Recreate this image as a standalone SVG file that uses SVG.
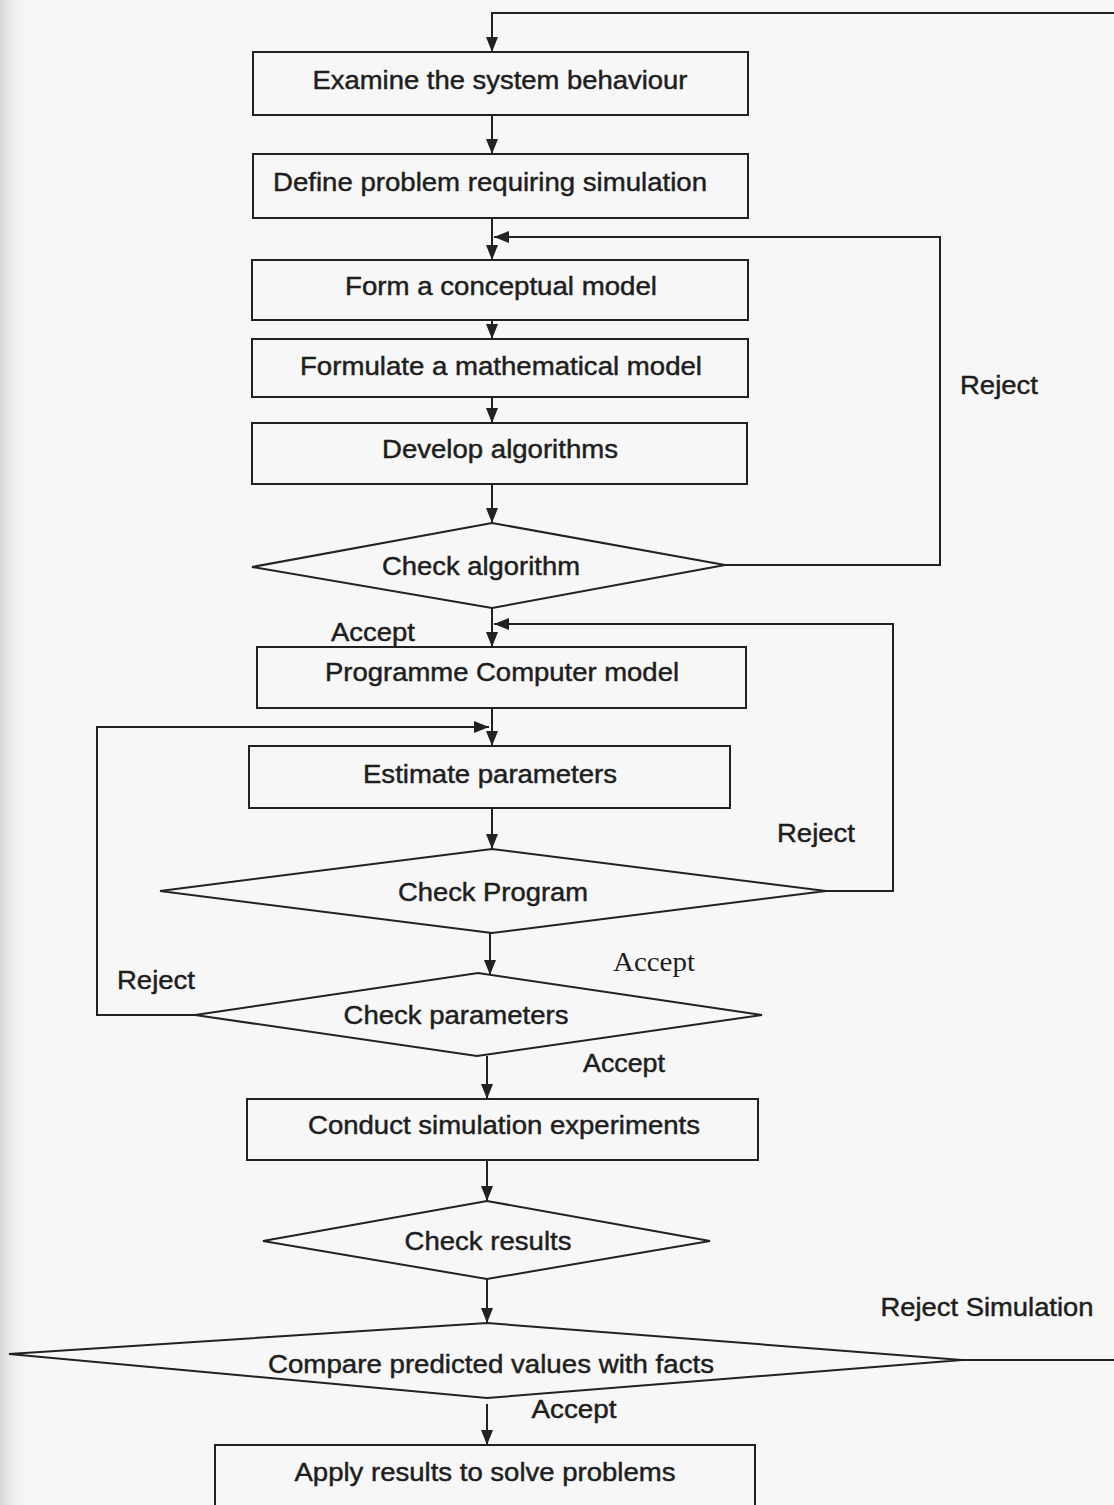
<svg xmlns="http://www.w3.org/2000/svg" width="1114" height="1505" viewBox="0 0 1114 1505">
<style>
.box{fill:none;stroke:#222;stroke-width:2}
.dia{fill:none;stroke:#222;stroke-width:2;stroke-linejoin:miter}
.ln{fill:none;stroke:#222;stroke-width:2}
.t{font-family:"Liberation Sans",Arial,sans-serif;font-size:25px;fill:#1e1e1e;stroke:#1e1e1e;stroke-width:0.45;text-anchor:middle;dominant-baseline:central}
.ts{font-family:"Liberation Serif","Times New Roman",serif;font-size:27px;fill:#1e1e1e;text-anchor:middle;dominant-baseline:central}
</style>
<defs>
<marker id="arr" markerUnits="userSpaceOnUse" markerWidth="15" markerHeight="12" viewBox="0 0 15 12" refX="15" refY="6" orient="auto">
<path d="M0,0 L15,6 L0,12 z" fill="#222"/>
</marker>
<linearGradient id="edge" x1="0" y1="0" x2="1" y2="0">
<stop offset="0" stop-color="#d6d6d6"/>
<stop offset="1" stop-color="#f7f7f7" stop-opacity="0"/>
</linearGradient>
</defs>
<rect x="0" y="0" width="1114" height="1505" fill="#f7f7f7"/>
<rect x="0" y="0" width="30" height="1505" fill="url(#edge)"/>
<g id="connectors">
<path class="ln" d="M1114,13 H492 V52" marker-end="url(#arr)"/>
<path class="ln" d="M492,115 V154" marker-end="url(#arr)"/>
<path class="ln" d="M492,218 V260" marker-end="url(#arr)"/>
<path class="ln" d="M725,565 H940 V237 H494" marker-end="url(#arr)"/>
<path class="ln" d="M492,320 V339" marker-end="url(#arr)"/>
<path class="ln" d="M492,397 V423" marker-end="url(#arr)"/>
<path class="ln" d="M492,484 V523" marker-end="url(#arr)"/>
<path class="ln" d="M492,608 V647" marker-end="url(#arr)"/>
<path class="ln" d="M826,891 H893 V624 H494" marker-end="url(#arr)"/>
<path class="ln" d="M492,708 V746" marker-end="url(#arr)"/>
<path class="ln" d="M492,808 V849" marker-end="url(#arr)"/>
<path class="ln" d="M490,933 V975" marker-end="url(#arr)"/>
<path class="ln" d="M195,1015 H97 V727 H489" marker-end="url(#arr)"/>
<path class="ln" d="M487,1056 V1099" marker-end="url(#arr)"/>
<path class="ln" d="M487,1160 V1201" marker-end="url(#arr)"/>
<path class="ln" d="M487,1279 V1323" marker-end="url(#arr)"/>
<path class="ln" d="M962,1360 H1114"/>
<path class="ln" d="M487,1404 V1445" marker-end="url(#arr)"/>
<text class="t" x="999" y="385" textLength="78" lengthAdjust="spacingAndGlyphs">Reject</text>
<text class="t" x="373" y="632" textLength="84" lengthAdjust="spacingAndGlyphs">Accept</text>
<text class="t" x="816" y="833" textLength="78" lengthAdjust="spacingAndGlyphs">Reject</text>
<text class="ts" x="654" y="962" textLength="82" lengthAdjust="spacingAndGlyphs">Accept</text>
<text class="t" x="156" y="980" textLength="78" lengthAdjust="spacingAndGlyphs">Reject</text>
<text class="t" x="624" y="1063" textLength="82" lengthAdjust="spacingAndGlyphs">Accept</text>
<text class="t" x="987" y="1307" textLength="213" lengthAdjust="spacingAndGlyphs">Reject Simulation</text>
<text class="t" x="574" y="1409" textLength="85" lengthAdjust="spacingAndGlyphs">Accept</text>
</g>
<g id="n1"><rect class="box" x="253" y="52" width="495" height="63"/><text class="t" x="500" y="80" textLength="375" lengthAdjust="spacingAndGlyphs">Examine the system behaviour</text></g>
<g id="n2"><rect class="box" x="253" y="154" width="495" height="64"/><text class="t" x="490" y="182" style="font-size:26px" textLength="434" lengthAdjust="spacingAndGlyphs">Define problem requiring simulation</text></g>
<g id="n3"><rect class="box" x="252" y="260" width="496" height="60"/><text class="t" x="501" y="286" textLength="312" lengthAdjust="spacingAndGlyphs">Form a conceptual model</text></g>
<g id="n4"><rect class="box" x="252" y="339" width="496" height="58"/><text class="t" x="501" y="366" textLength="402" lengthAdjust="spacingAndGlyphs">Formulate a mathematical model</text></g>
<g id="n5"><rect class="box" x="252" y="423" width="495" height="61"/><text class="t" x="500" y="449" textLength="236" lengthAdjust="spacingAndGlyphs">Develop algorithms</text></g>
<g id="n6"><polygon class="dia" points="492,523 725,565 492,608 252,567"/><text class="t" x="481" y="566" textLength="198" lengthAdjust="spacingAndGlyphs">Check algorithm</text></g>
<g id="n7"><rect class="box" x="257" y="647" width="489" height="61"/><text class="t" x="502" y="672" textLength="354" lengthAdjust="spacingAndGlyphs">Programme Computer model</text></g>
<g id="n8"><rect class="box" x="249" y="746" width="481" height="62"/><text class="t" x="490" y="774" textLength="254" lengthAdjust="spacingAndGlyphs">Estimate parameters</text></g>
<g id="n9"><polygon class="dia" points="492,849 826,891 492,933 160,891"/><text class="t" x="493" y="892" textLength="190" lengthAdjust="spacingAndGlyphs">Check Program</text></g>
<g id="n10"><polygon class="dia" points="478,973 762,1015 477,1056 195,1015"/><text class="t" x="456" y="1015" textLength="225" lengthAdjust="spacingAndGlyphs">Check parameters</text></g>
<g id="n11"><rect class="box" x="247" y="1099" width="511" height="61"/><text class="t" x="504" y="1125" textLength="392" lengthAdjust="spacingAndGlyphs">Conduct simulation experiments</text></g>
<g id="n12"><polygon class="dia" points="487,1201 710,1241 487,1279 263,1241"/><text class="t" x="488" y="1241" textLength="167" lengthAdjust="spacingAndGlyphs">Check results</text></g>
<g id="n13"><polygon class="dia" points="487,1323 962,1360 487,1398 9,1354"/><text class="t" x="491" y="1364" textLength="446" lengthAdjust="spacingAndGlyphs">Compare predicted values with facts</text></g>
<g id="n14"><rect class="box" x="215" y="1445" width="540" height="80"/><text class="t" x="485" y="1472" textLength="381" lengthAdjust="spacingAndGlyphs">Apply results to solve problems</text></g>
</svg>
